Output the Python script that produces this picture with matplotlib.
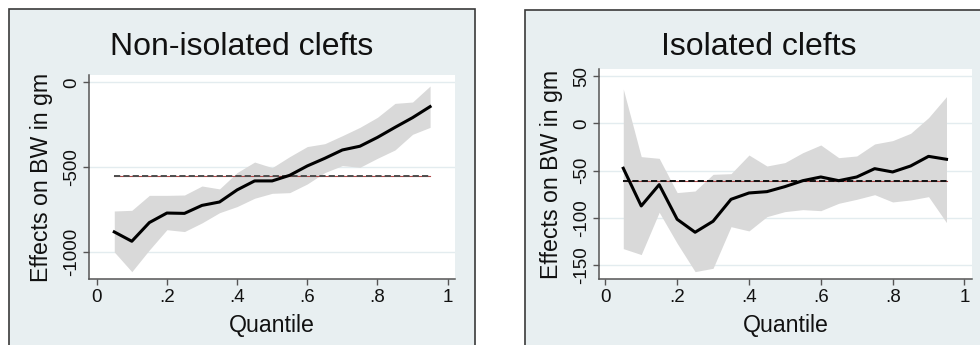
import numpy as np
import matplotlib
matplotlib.use('Agg')
import matplotlib.pyplot as plt
from matplotlib.patches import Rectangle

plt.rcParams['font.family'] = ['Liberation Sans', 'DejaVu Sans']

quantiles = np.round(np.arange(0.05, 0.951, 0.05), 2)

# Non-isolated clefts
non_coef = [-880, -935, -825, -769, -771, -724, -704, -633, -580, -580,
            -547, -492, -447, -398, -376, -324, -265, -208, -143]
non_hi = [-757, -753, -665, -665, -663, -610, -627, -531, -469, -502,
          -437, -378, -361, -314, -265, -206, -124, -116, -22]
non_lo = [-998, -1114, -986, -867, -878, -827, -767, -731, -682, -653,
          -649, -598, -531, -490, -500, -447, -398, -306, -265]
non_ols = -551

# Isolated clefts
iso_coef = [-47.5, -87.3, -64.8, -101.4, -115.1, -103.5, -80.3, -73.6, -72.2, -66.9,
            -60.6, -56.7, -60.6, -56.7, -47.9, -51.4, -45.1, -34.9, -38.0]
iso_hi = [36.3, -35.2, -37.0, -73.2, -71.5, -53.9, -53.2, -33.5, -45.1, -41.5,
          -31.0, -22.9, -36.3, -34.5, -21.8, -18.3, -10.6, 6.0, 28.2]
iso_lo = [-132.4, -138.7, -94.0, -126.8, -156.7, -153.2, -109.2, -113.7, -98.6, -93.3,
          -91.2, -92.3, -84.5, -80.3, -75.4, -83.1, -81.0, -77.5, -104.9]
iso_ols = -61.3

xticks = [0, 0.2, 0.4, 0.6, 0.8, 1]
xticklabels = ['0', '.2', '.4', '.6', '.8', '1']

W, H = 980, 345
fig = plt.figure(figsize=(W / 100, H / 100), dpi=100)
BG = '#e8eff1'


def fx(px):
    return px / W


def fy(py):
    return 1 - py / H


# panel backgrounds (bottom edge runs off the image)
for x0, x1, y0 in [(9, 475, 9), (525, 1000, 10)]:
    fig.patches.append(Rectangle((fx(x0), fy(360)), fx(x1 - x0), (360 - y0) / H,
                                 transform=fig.transFigure, facecolor=BG,
                                 edgecolor='#3a3a3a', linewidth=1.2, zorder=-5))

panels = [
    dict(title='Non-isolated clefts', box=(9, 475), ax=(89, 455, 75, 279),
         coef=non_coef, hi=non_hi, lo=non_lo, ols=non_ols,
         ylim=(-1157, 43), yticks=[0, -500, -1000], xlim=(-0.022, 1.021),
         dash='#4e4e4e'),
    dict(title='Isolated clefts', box=(525, 993), ax=(599, 972, 69, 279),
         coef=iso_coef, hi=iso_hi, lo=iso_lo, ols=iso_ols,
         ylim=(-164.5, 57.4), yticks=[50, 0, -50, -100, -150], xlim=(-0.0176, 1.021),
         dash='#111111'),
]

for p in panels:
    l, r, t, b = p['ax']
    ax = fig.add_axes([fx(l), fy(b), fx(r - l), (b - t) / H])
    ax.set_zorder(1)
    ax.set_facecolor('white')
    ax.fill_between(quantiles, p['lo'], p['hi'], color='#d9d9d9', linewidth=0, zorder=2)
    ax.plot(quantiles, p['coef'], color='black', linewidth=2.2, zorder=4)
    ax.plot([quantiles[0], quantiles[-1]], [p['ols']] * 2, color='#b04848',
            linewidth=0.8, zorder=3)
    ax.plot([quantiles[0], quantiles[-1]], [p['ols']] * 2, color=p['dash'],
            linewidth=1.4, dashes=(3.2, 1.6), zorder=3.5)
    ax.set_xlim(*p['xlim'])
    ax.set_ylim(*p['ylim'])
    ax.set_xticks(xticks)
    ax.set_xticklabels(xticklabels)
    ax.set_yticks(p['yticks'])
    ax.set_yticklabels([str(v) for v in p['yticks']], rotation=90, va='center')
    ax.grid(axis='y', color='#e3ecef', linewidth=1.0, zorder=1)
    ax.set_axisbelow(True)
    for s in ['top', 'right']:
        ax.spines[s].set_visible(False)
    for s in ['left', 'bottom']:
        ax.spines[s].set_color('#555555')
        ax.spines[s].set_linewidth(1.1)
    ax.tick_params(direction='out', length=4, width=1.0, color='#555555',
                   labelsize=13.5, labelcolor='#111111')
    ax.tick_params(axis='x', pad=3)
    ax.tick_params(axis='y', pad=2.2)
    ax.set_xlabel('Quantile', fontsize=16.7, color='#111111')
    ax.set_ylabel('Effects on BW in gm', fontsize=16.7, color='#111111')
    ax.xaxis.label.set_va('center')
    ax.yaxis.label.set_va('center')
    ax.xaxis.set_label_coords(0.5, (b - 325.5) / (b - t))
    ax.yaxis.set_label_coords(-47.5 / (r - l), 0.5)
    bx0, bx1 = p['box']
    fig.text(fx((bx0 + bx1) / 2), fy(55), p['title'], fontsize=23,
             ha='center', va='baseline', color='#111111')

fig.savefig('out.png', dpi=100)
